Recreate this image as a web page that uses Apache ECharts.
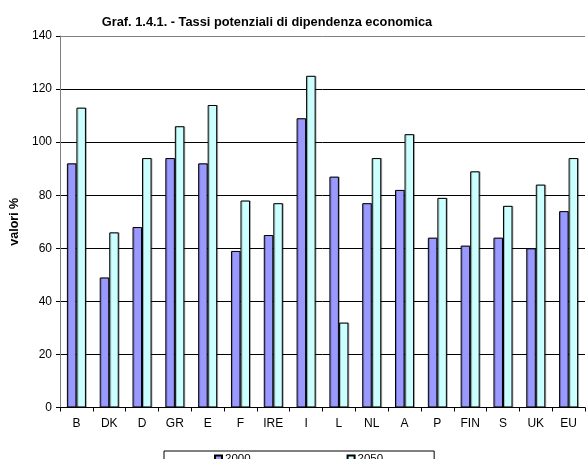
<!DOCTYPE html>
<html>
<head>
<meta charset="utf-8">
<script src="https://cdn.jsdelivr.net/npm/echarts@6/dist/echarts.min.js"></script>
<style>html,body{margin:0;padding:0;background:#fff}#c{width:586px;height:459px}</style>
</head>
<body>
<div id="c"></div>
<script>
var categories = ['B','DK','D','GR','E','F','IRE','I','L','NL','A','P','FIN','S','UK','EU'];
var values2000 = [92,49,68,94,92,59,65,109,87,77,82,64,61,64,60,74];
var values2050 = [113,66,94,106,114,78,77,125,32,94,103,79,89,76,84,94];
var seriesNames = ['2000','2050'];
var yTicks = {min:0, max:140, interval:20};

var chart = echarts.init(document.getElementById('c'), null, {renderer:'canvas'});
var font = 'Liberation Sans, Arial, sans-serif';
var barStyle = function(c){ return {color:c, borderColor:'#000', borderWidth:1, shadowColor:'rgba(0,0,0,0.25)', shadowOffsetX:1, shadowOffsetY:0, shadowBlur:0}; };
chart.setOption({
  animation:false,
  title:{text:'Graf. 1.4.1. - Tassi potenziali di dipendenza economica', left:262, textAlign:'center', top:11,
    textStyle:{fontFamily:font, fontSize:12.8, fontWeight:'bold', color:'#000'}},
  grid:{left:60, top:36, right:1, bottom:51.5},
  legend:{left:164, top:451, padding:[2,51,4,50], itemGap:96, itemWidth:7, itemHeight:7, icon:'rect',
    borderColor:'#000', borderWidth:1,
    textStyle:{fontFamily:font, fontSize:11.5, color:'#000', padding:[0,0,0,-2]}},
  xAxis:{type:'category', data:categories,
    axisLine:{lineStyle:{color:'#000'}},
    axisTick:{show:true, length:4, alignWithLabel:false, lineStyle:{color:'#000'}},
    axisLabel:{fontFamily:font, fontSize:12, color:'#000', margin:10}},
  yAxis:{type:'value', min:yTicks.min, max:yTicks.max, interval:yTicks.interval,
    name:'valori %', nameLocation:'middle', nameGap:38, nameRotate:90,
    nameTextStyle:{fontFamily:font, fontSize:12.5, fontWeight:'bold', color:'#000'},
    axisLine:{show:true, lineStyle:{color:'#808080'}},
    axisTick:{show:true, length:4, lineStyle:{color:'#000'}},
    axisLabel:{fontFamily:font, fontSize:12, color:'#000', margin:8},
    splitLine:{lineStyle:{color:['#000','#000','#000','#000','#000','#000','#000','#808080'], width:1}}},
  series:[
    {name:seriesNames[0], type:'bar', data:values2000, barGap:'0%', barCategoryGap:'42%', itemStyle:barStyle('#9999FF')},
    {name:seriesNames[1], type:'bar', data:values2050, barGap:'0%', barCategoryGap:'42%', itemStyle:barStyle('#CCFFFF')}
  ]
});
</script>
</body>
</html>
